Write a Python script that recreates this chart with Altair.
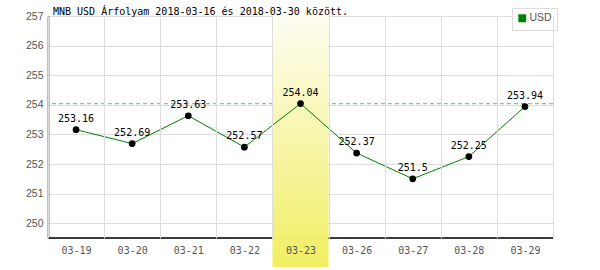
import altair as alt
import pandas as pd

dates = ["03-19", "03-20", "03-21", "03-22", "03-23", "03-26", "03-27", "03-28", "03-29"]
values = [253.16, 252.69, 253.63, 252.57, 254.04, 252.37, 251.5, 252.25, 253.94]
labels = ["253.16", "252.69", "253.63", "252.57", "254.04", "252.37", "251.5", "252.25", "253.94"]
series = ["USD"] * len(dates)
highlight = ["03-23"]
max_value = [254.04]
y_min, y_max = 249.5, 257
y_ticks = [250, 251, 252, 253, 254, 255, 256, 257]
title_text = "MNB USD Árfolyam 2018-03-16 és 2018-03-30 között."

df = pd.DataFrame({"date": dates, "value": values, "label": labels, "series": series})
df_hi = pd.DataFrame({"date": highlight})
df_max = pd.DataFrame({"value": max_value})
df_base = pd.DataFrame({"value": [y_min]})
df_title = pd.DataFrame({"t": [title_text]})

xscale = alt.Scale(domain=dates, paddingInner=0, paddingOuter=0)
yscale = alt.Scale(domain=[y_min, y_max], nice=False, zero=False)

x_axis = alt.Axis(title=None, grid=True, gridColor="#dddddd", tickBand="extent",
                  ticks=False, domain=False, labelFont="DejaVu Sans Mono", labelFontSize=10,
                  labelColor="#555555", labelPadding=7, labelAngle=0, zindex=1)
y_axis = alt.Axis(title=None, values=y_ticks, grid=True, gridColor="#dddddd", ticks=False,
                  domain=True, domainColor="black", domainWidth=1.5, labelFont="Liberation Sans",
                  labelFontSize=10.5, labelColor="#555555", labelPadding=5)

X = alt.X("date:N", scale=xscale, axis=x_axis, sort=dates)
Y = alt.Y("value:Q", scale=yscale, axis=y_axis)

maxline = alt.Chart(df_max).mark_rule(stroke="#88c888", strokeDash=[4, 3], strokeWidth=1.2).encode(
    y=alt.Y("value:Q", scale=yscale, axis=y_axis))

baseline = alt.Chart(df_base).mark_rule(stroke="black", strokeWidth=1.5).encode(
    y=alt.Y("value:Q", scale=yscale, axis=y_axis))

band = alt.Chart(df_hi).mark_rect(
    fill=alt.Gradient(gradient="linear", x1=0, x2=0, y1=0, y2=1,
                      stops=[alt.GradientStop(offset=0, color="#fdfdf2"),
                             alt.GradientStop(offset=1, color="#f1ee62")])
).encode(x=alt.X("date:N", scale=xscale, axis=x_axis, sort=dates),
         y=alt.value(0), y2=alt.value(251))

line = alt.Chart(df).mark_line(strokeWidth=1).encode(
    x=X, y=Y,
    color=alt.Color("series:N", scale=alt.Scale(domain=["USD"], range=["green"]),
                    legend=alt.Legend(title=None, orient="none", legendX=464, legendY=-8,
                                      symbolType="square", symbolFillColor="green",
                                      symbolStrokeColor="green", symbolSize=40,
                                      labelFont="Liberation Sans", labelFontSize=10.5,
                                      labelColor="#555555", strokeColor="#dddddd",
                                      fillColor="white", padding=5, symbolOffset=0,
                                      labelOffset=2)))

points = alt.Chart(df).mark_circle(color="black", opacity=1, size=45).encode(x=X, y=Y)

text = alt.Chart(df).mark_text(font="DejaVu Sans Mono", fontSize=10, color="black",
                               dy=-6, baseline="bottom").encode(
    x=X, y=Y, text="label:N")

title = alt.Chart(df_title).mark_text(font="DejaVu Sans Mono", fontSize=10, color="black",
                                      align="left", baseline="alphabetic").encode(
    x=alt.value(5), y=alt.value(-1), text="t:N")

chart = alt.layer(maxline, baseline, band, line, points, text, title).properties(
    width=505, height=222,
    autosize=alt.AutoSizeParams(type="none"),
    padding={"left": 48, "top": 16, "right": 47, "bottom": 32},
).configure_view(stroke="#dddddd").configure(background="white")

chart.save("out.html", embed_options={"renderer": "svg", "actions": False})
